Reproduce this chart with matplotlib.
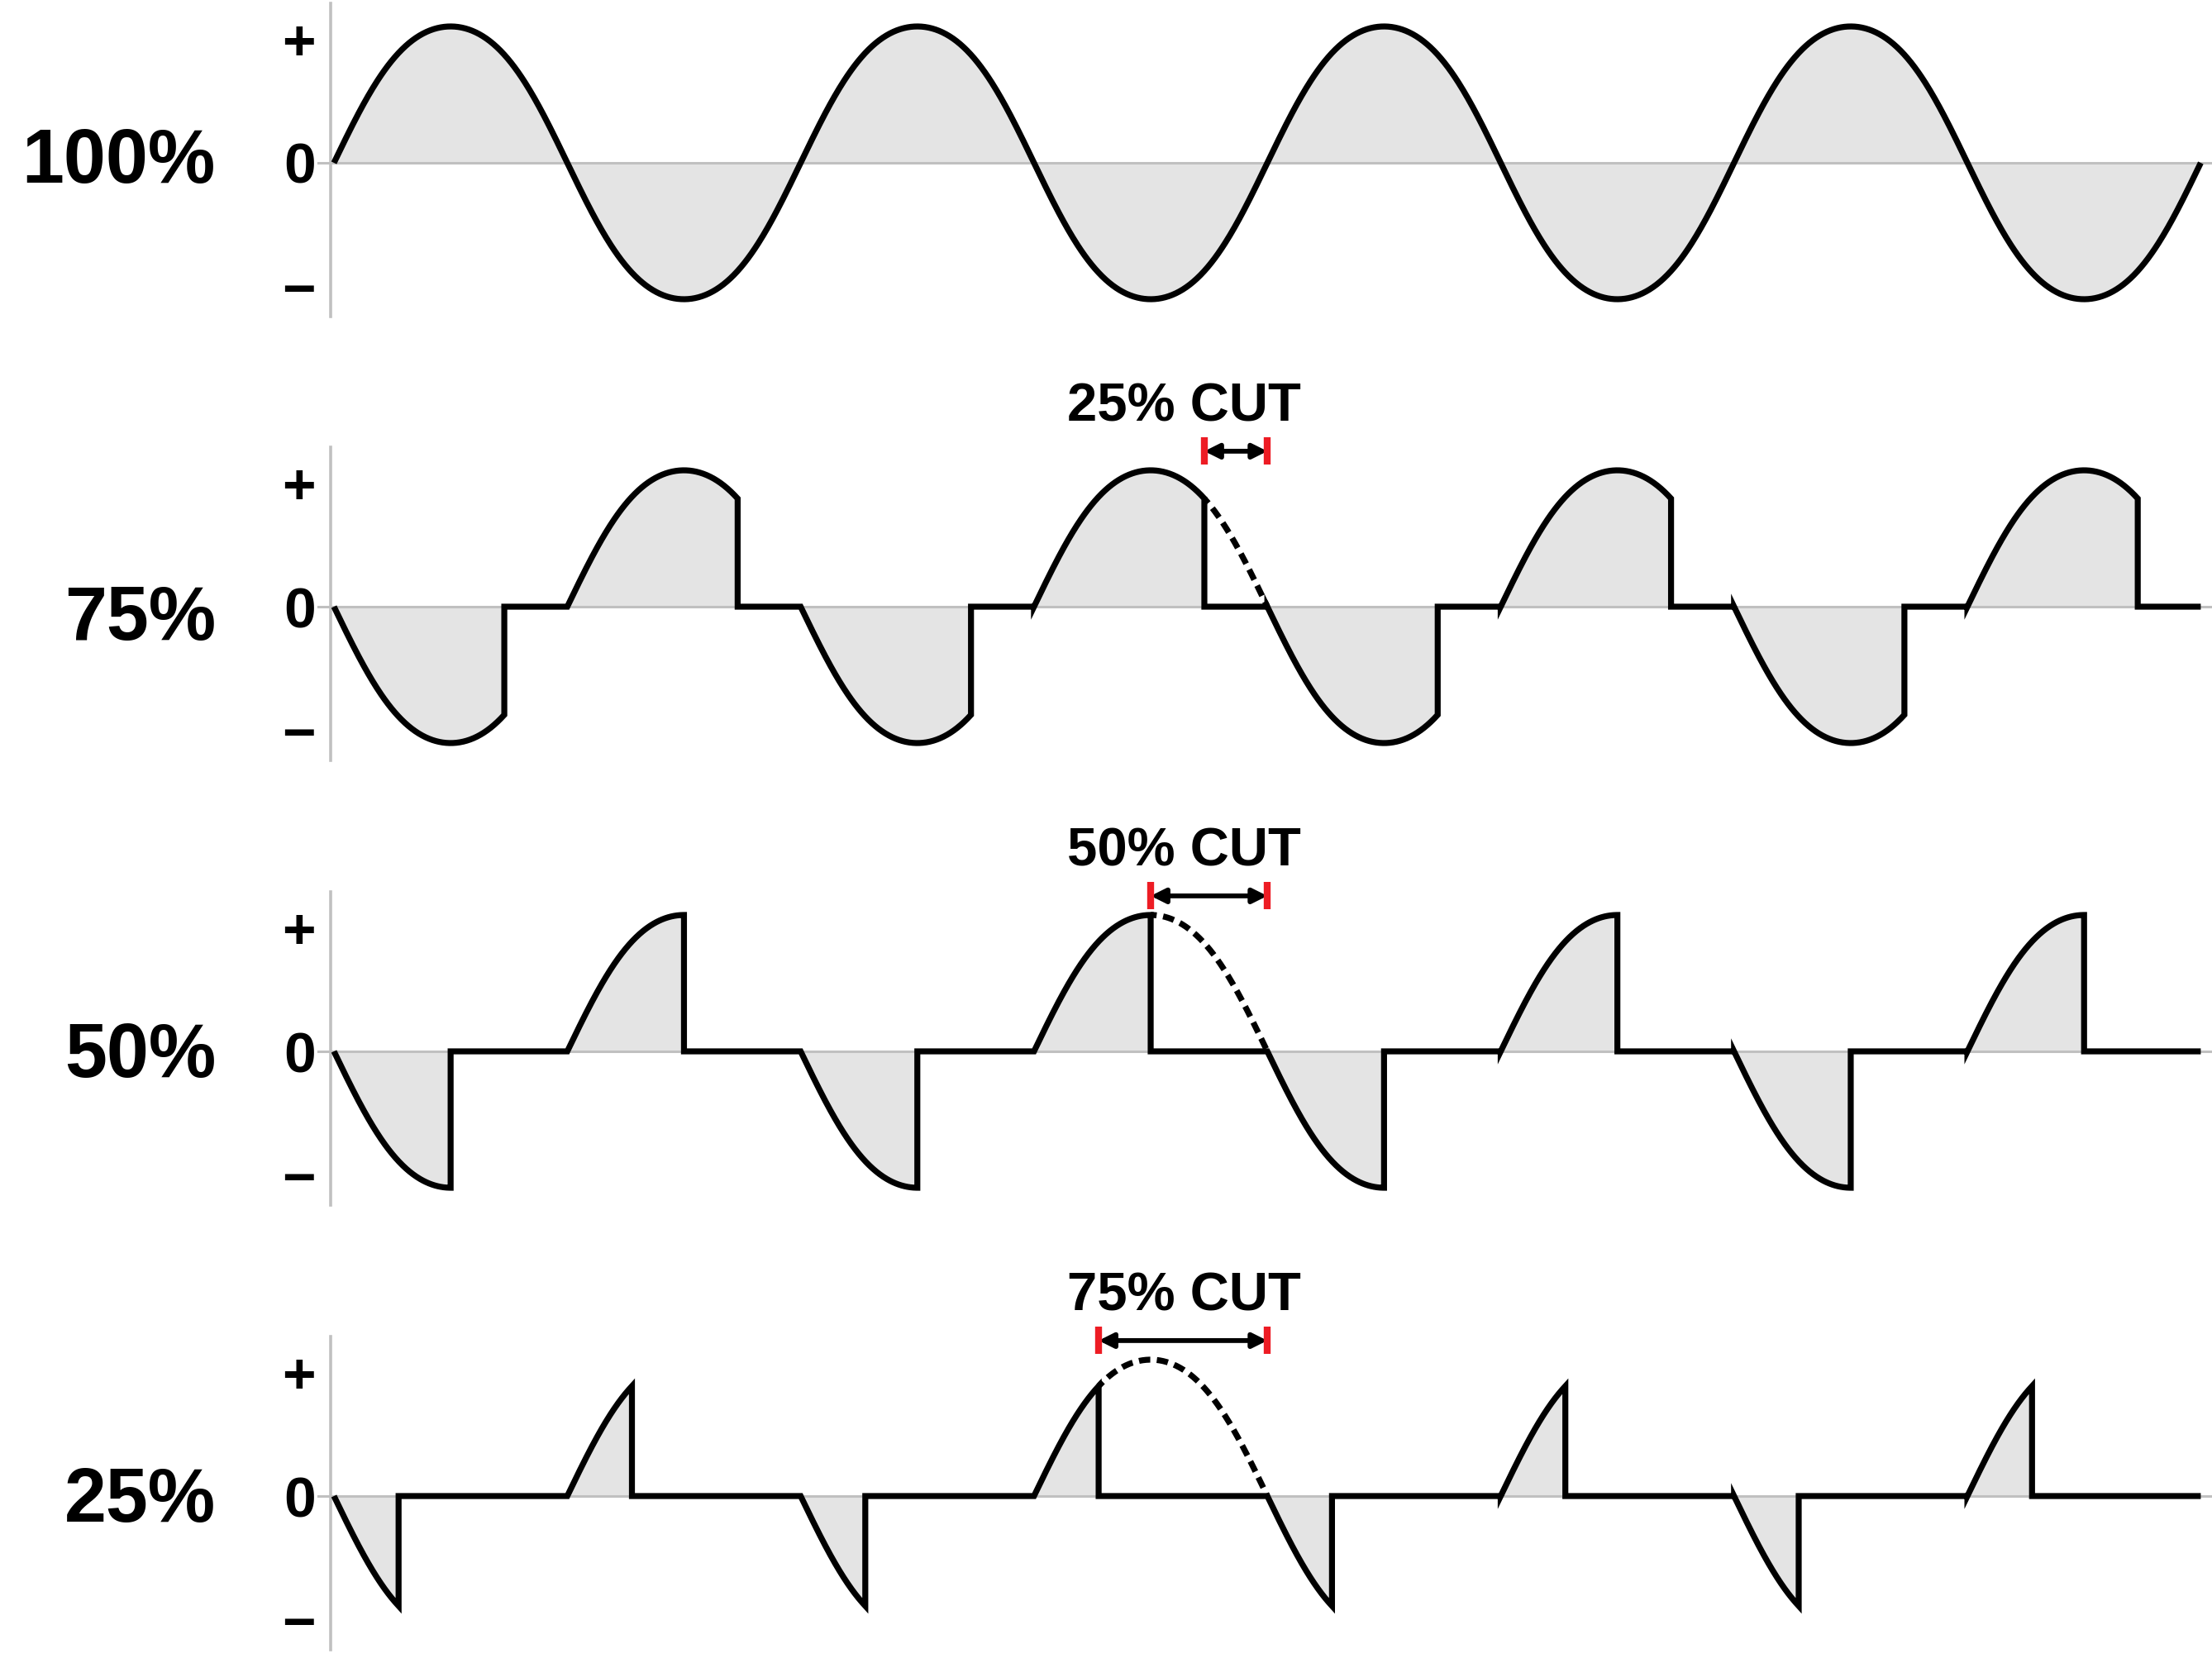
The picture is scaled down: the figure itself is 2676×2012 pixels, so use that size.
import numpy as np
import matplotlib.pyplot as plt

plt.rcParams['font.family'] = ['Liberation Sans', 'DejaVu Sans']
plt.rcParams['font.weight'] = 'bold'

# what is shown
power_labels = ['100%', '75%', '50%', '25%']
conduct = [1.0, 0.73, 0.5, 0.277]      # kept part of each half cycle
polarity = [1, -1, -1, -1]
cut_labels = [None, '25% CUT', '50% CUT', '75% CUT']
cut_half = 3                            # half cycle where the cut part is dashed
n_half = 8
tick_pos = [0.91, 0, -0.91]
tick_text = ['+', '0', '\u2212']
fullness = 0.13                         # waveform is a bit fuller than a pure sine

# layout (pixels of the output)
W, H = 2676, 2012
zero_px = [197, 734, 1272, 1810]
label_dy = [0.04, -0.06, 0.0, 0.0]
amp = 165
x0, hp = 404, 282.3
left = 400
ylo, yhi = -1.13, 1.17

black = 'black'
gray = '#c0c0c0'
fillc = '#e4e4e4'
red = '#ed1c24'
lw_wave = 5.2


def wave(x, sgn):
    s = sgn * np.sin(np.pi * x)
    return s * (1 + fullness * (1 - s ** 2))


def chopped(f, sgn):
    xs, ys = [], []
    for k in range(n_half):
        x = np.linspace(k, k + f, 200)
        xs.append(x)
        ys.append(wave(x, sgn))
        if f < 1:
            xs.append(np.array([k + f, k + 1]))
            ys.append(np.array([0.0, 0.0]))
    return np.concatenate(xs), np.concatenate(ys)


fig = plt.figure(figsize=(W / 100, H / 100), dpi=100)

for i in range(4):
    z = zero_px[i]
    top = z - yhi * amp
    bot = z - ylo * amp
    ax = fig.add_axes([left / W, 1 - bot / H, (W - left) / W, (bot - top) / H])
    xmin, xmax = (left - x0) / hp, (W - x0) / hp
    ax.set_xlim(xmin, xmax)
    ax.set_ylim(ylo, yhi)

    for s in ['top', 'right', 'bottom']:
        ax.spines[s].set_visible(False)
    ax.spines['left'].set_color(gray)
    ax.spines['left'].set_linewidth(2.6)
    ax.set_xticks([])
    ax.set_yticks(tick_pos)
    ax.set_yticklabels(tick_text)
    ax.tick_params(axis='y', length=0, pad=13, labelsize=50)
    for t in ax.get_yticklabels():
        t.set_fontweight('bold')

    x, y = chopped(conduct[i], polarity[i])
    ax.fill_between(x, y, 0, color=fillc, lw=0, zorder=1)
    ax.plot([(385 - x0) / hp, xmax], [0, 0], color=gray, lw=2.2,
            clip_on=False, zorder=2)
    ax.plot(x, y, color=black, lw=lw_wave, solid_joinstyle='miter',
            solid_capstyle='butt', zorder=3)

    ax.text((261 - x0) / hp, -0.185 + label_dy[i], power_labels[i], ha='right',
            va='baseline', fontsize=66, fontweight='bold', clip_on=False)

    if cut_labels[i] is not None:
        c = cut_half + conduct[i]
        xd = np.linspace(c, cut_half + 1, 200)
        ax.plot(xd, wave(xd, polarity[i]), color=black, lw=lw_wave,
                ls=(0.9, (1.9, 1.1)), dash_capstyle='butt', zorder=3)
        ax.annotate('', xy=(cut_half + 1, 1.14), xytext=(c, 1.14),
                    arrowprops=dict(arrowstyle='<|-|>', lw=4.2, color=black,
                                    mutation_scale=26, shrinkA=0, shrinkB=0),
                    annotation_clip=False, zorder=4)
        for xt in [c, cut_half + 1]:
            ax.plot([xt, xt], [1.04, 1.245], color=red, lw=6.0,
                    solid_capstyle='butt', clip_on=False, zorder=5)
        ax.text(3.643, 1.36, cut_labels[i], ha='center', va='baseline',
                fontsize=47, fontweight='bold', clip_on=False)

fig.savefig('out.png', dpi=100)
